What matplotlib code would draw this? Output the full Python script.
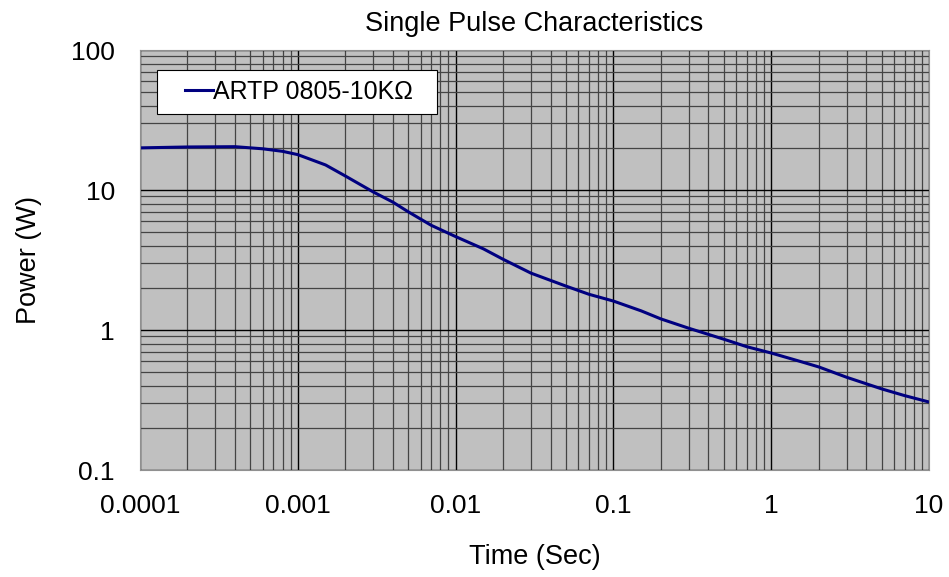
import numpy as np
import matplotlib.pyplot as plt
from matplotlib.ticker import LogLocator, FixedLocator, FixedFormatter
from matplotlib.legend_handler import HandlerLine2D

plt.rcParams['font.family'] = ['Liberation Sans', 'DejaVu Sans']

# data (time in s, power in W)
tijd = [0.0001, 0.0002, 0.0004, 0.0006, 0.0008, 0.001, 0.0015, 0.002, 0.003,
        0.004, 0.005, 0.007, 0.01, 0.015, 0.02, 0.03, 0.05, 0.07, 0.1, 0.15,
        0.2, 0.3, 0.5, 0.7, 1, 1.5, 2, 3, 5, 7, 10]
vermogen = [20.0, 20.3, 20.4, 19.7, 18.9, 17.9, 15.1, 12.6, 9.7,
            8.2, 7.0, 5.6, 4.65, 3.8, 3.2, 2.55, 2.06, 1.8, 1.61, 1.37,
            1.2, 1.03, 0.86, 0.76, 0.685, 0.6, 0.545, 0.46, 0.38, 0.34, 0.306]

x_ticks = [0.0001, 0.001, 0.01, 0.1, 1, 10]
x_labels = ["0.0001", "0.001", "0.01", "0.1", "1", "10"]
y_ticks = [0.1, 1, 10, 100]
y_labels = ["0.1", "1", "10", "100"]


class RechtsLijn(HandlerLine2D):
    # legend line only over the right part of the handle box -> extra left padding
    def get_xdata(self, legend, xdescent, ydescent, width, height, fontsize):
        xd = np.array([-xdescent + 0.4 * width, -xdescent + width])
        return xd, xd


fig = plt.figure(figsize=(9.49, 5.77), dpi=100)
ax = fig.add_axes([0.1475, 0.1854, 0.8315, 0.7279])
ax.set_facecolor('#c0c0c0')
ax.set_xscale('log')
ax.set_yscale('log')
ax.set_xlim(0.0001, 10)
ax.set_ylim(0.1, 100)

ax.xaxis.set_major_locator(FixedLocator(x_ticks))
ax.xaxis.set_major_formatter(FixedFormatter(x_labels))
ax.yaxis.set_major_locator(FixedLocator(y_ticks))
ax.yaxis.set_major_formatter(FixedFormatter(y_labels))
ax.xaxis.set_minor_locator(LogLocator(base=10, subs=np.arange(2, 10)))
ax.yaxis.set_minor_locator(LogLocator(base=10, subs=np.arange(2, 10)))
ax.xaxis.set_minor_formatter(FixedFormatter([]))
ax.yaxis.set_minor_formatter(FixedFormatter([]))

ax.grid(which='major', color='black', linewidth=1.0)
ax.grid(which='minor', color='#444444', linewidth=0.9)
ax.set_axisbelow(True)
ax.tick_params(which='both', length=0, labelsize=19)
ax.tick_params(axis='x', pad=17)
ax.tick_params(axis='y', pad=18)

for s in ax.spines.values():
    s.set_color('#909090')

lijn, = ax.plot(tijd, vermogen, color='#000080', linewidth=2.2, label='ARTP 0805-10KΩ  ')

ax.set_title("Single Pulse Characteristics", fontsize=19.5, pad=14)
ax.set_xlabel("Time (Sec)", fontsize=19.5, labelpad=19)
ax.set_ylabel("Power (W)", fontsize=19.5, labelpad=21)

leg = ax.legend(loc='upper left', bbox_to_anchor=(0.0215, 0.952), fontsize=18,
                frameon=True, fancybox=False, framealpha=1, edgecolor='black',
                handlelength=1.85, handletextpad=0.0, borderpad=0.4,
                borderaxespad=0.0, handler_map={lijn: RechtsLijn()})
leg.get_frame().set_linewidth(0.8)

fig.savefig("out.png", dpi=100)
